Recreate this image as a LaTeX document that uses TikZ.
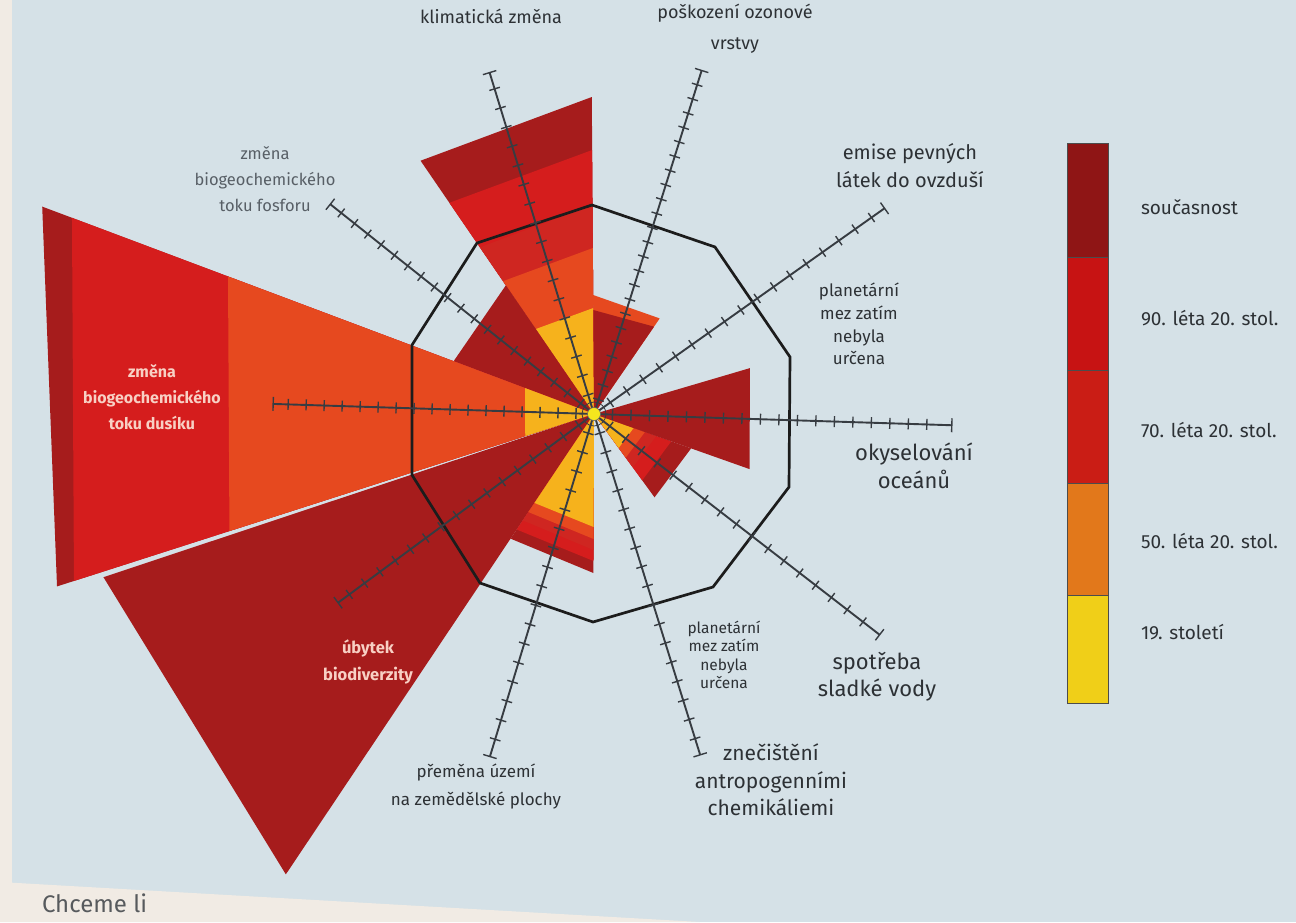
\documentclass[tikz,border=0pt]{standalone}
\usepackage{fontspec}
\setmainfont{Fira Sans}
\definecolor{cbg}{RGB}{213,225,231}
\definecolor{cpage}{RGB}{241,235,228}
\definecolor{ctext}{RGB}{45,49,53}
\definecolor{cgrey}{RGB}{88,95,102}
\definecolor{caxis}{RGB}{55,60,66}
\definecolor{cbound}{RGB}{28,28,28}
\definecolor{cinner}{RGB}{248,208,196}
\definecolor{c19}{RGB}{246,178,28}
\definecolor{c50}{RGB}{230,73,31}
\definecolor{c70}{RGB}{207,38,33}
\definecolor{c90}{RGB}{213,29,29}
\definecolor{cnow}{RGB}{166,28,28}
\definecolor{l19}{RGB}{240,207,24}
\definecolor{l50}{RGB}{226,120,27}
\definecolor{l70}{RGB}{202,29,21}
\definecolor{l90}{RGB}{199,19,19}
\definecolor{lnow}{RGB}{143,21,21}
\definecolor{cdot}{RGB}{245,230,30}

% one triangle of a wedge: from-angle, to-angle, radius on each edge, colour
\newcommand{\wedgetri}[5]{\fill[#5] (0,0) -- (#1:#3) -- (#2:#4) -- cycle;}

\tikzset{
  axisline/.style={draw=caxis, line width=1.9pt},
  tickmark/.style={draw=caxis, line width=1.4pt},
  boundary/.style={draw=cbound, line width=2.7pt, line join=miter},
  lbl/.style={text=ctext, align=center},
  innerlbl/.style={text=cinner, align=center, font=\fontsize{16}{26}\selectfont\bfseries},
  legbox/.style={draw=black!70, line width=0.8pt},
  leglbl/.style={text=ctext, font=\fontsize{19}{22}\selectfont},
}

\begin{document}
\begin{tikzpicture}[y=1pt, x=1pt, yscale=-1, inner sep=0pt, outer sep=0pt]
\useasboundingbox (0,0) rectangle (1296,922);
\path[fill=cbg] (0,0) rectangle (1296,922);
\path[fill=cpage] (0,0) rectangle (12,922);
\path[fill=cpage] (0,882) -- (700,922) -- (0,922) -- cycle;
\node[text=ctext!80, anchor=north west, font=\fontsize{24}{28}\selectfont] (text-chceme) at (42,894) {Chceme li};

% wedges, centre of the chart
\begin{scope}[shift={(594,414)}, yscale=-1]
  % klimaticka zmena
  \foreach \rl/\rh/\col in {317/307/cnow, 264/256/c90, 209/202/c70, 166/161/c50, 106/103/c19}
    \wedgetri{90.4}{124.4}{\rl}{\rh}{\col};
  % fosfor
  \wedgetri{124.4}{159.4}{156}{150}{cnow};
  % dusik
  \foreach \rl/\rh/\col in {589.5/564/cnow, 557.7/546.2/c90, 391/382.9/c50, 73.7/72.2/c19}
    \wedgetri{159.4}{197.8}{\rl}{\rh}{\col};
  % biodiverzita
  \wedgetri{-161.6}{-123.8}{517}{554}{cnow};
  % zemedelske plochy
  \foreach \rl/\rh/\col in {150/159/cnow, 139/147/c90, 128/136/c70, 118/125/c50, 107/113/c19}
    \wedgetri{-123.8}{-90.2}{\rl}{\rh}{\col};
  % sladka voda
  \foreach \r/\col in {103/cnow, 82/c90, 66/c70, 54/c50, 42/c19}
    \wedgetri{-54}{-19.5}{\r}{\r}{\col};
  % oceany
  \wedgetri{-19.5}{16.4}{165}{162.6}{cnow};
  % ozon
  \wedgetri{55.5}{90.4}{116}{119}{c50};
  \wedgetri{55.5}{90.4}{106}{104}{cnow};
\end{scope}

% planetary boundary
\path[boundary] (592,205) -- (715,247) -- (790,357) -- (789,487) -- (713,587)
  -- (593,622) -- (480,583) -- (412,475) -- (412,345) -- (477,243) -- cycle;

% axes with ticks
\begin{scope}[shift={(594,414)}, yscale=-1]
  \foreach \ang/\len/\stp in {107/357/20, 72.6/360/15, 35.3/356/20, -1.8/358/18.5,
      -37.7/361/20, -72.7/357/20, -106.9/358/20, -143.6/318/19, 178.2/321/18, 141.5/337/17}{
    \pgfmathtruncatemacro\nticks{(\len-8)/\stp}
    \begin{scope}[rotate=\ang]
      \path[axisline] (0,0) -- (\len,0);
      \foreach \k in {1,...,\nticks}
        \path[tickmark] ({\k*\stp},-5.5) -- ({\k*\stp},5.5);
      \path[tickmark] (\len,-7) -- (\len,7);
    \end{scope}
  }
  \path[draw=caxis, line width=0.8pt] (0,0) circle (12pt);
  \path[fill=cdot, draw=black!60, line width=0.6pt] (0,0) circle (6.5pt);
\end{scope}

% labels
\node[lbl, font=\fontsize{18}{21}\selectfont] (lbl-klima) at (491,16) {klimatická změna};
\node[lbl, font=\fontsize{18}{31}\selectfont] (lbl-ozon) at (735,29) {poškození ozonové\\vrstvy};
\node[lbl, font=\fontsize{20}{28}\selectfont] (lbl-emise) at (910,166) {emise pevných\\látek do ovzduší};
\node[lbl, font=\fontsize{17}{22.7}\selectfont] (lbl-mez1) at (859,324) {planetární\\mez zatím\\nebyla\\určena};
\node[lbl, font=\fontsize{22}{28}\selectfont] (lbl-ocean) at (914,466) {okyselování\\oceánů};
\node[lbl, font=\fontsize{22}{27}\selectfont] (lbl-voda) at (877,677) {spotřeba\\sladké vody};
\node[lbl, font=\fontsize{15.5}{18.3}\selectfont] (lbl-mez2) at (724,655) {planetární\\mez zatím\\nebyla\\určena};
\node[lbl, font=\fontsize{21}{27.5}\selectfont] (lbl-chem) at (771,780) {znečištění\\antropogenními\\chemikáliemi};
\node[lbl, font=\fontsize{17}{28}\selectfont] (lbl-puda) at (476,786) {přeměna území\\na zemědělské plochy};
\node[lbl, text=cgrey, font=\fontsize{16.5}{26}\selectfont] (lbl-fosfor) at (265,179) {změna\\biogeochemického\\toku fosforu};
\node[innerlbl] (lbl-dusik) at (152,397) {změna\\biogeochemického\\toku dusíku};
\node[innerlbl, font=\fontsize{16.5}{27}\selectfont\bfseries] (lbl-biodiv) at (368,662) {úbytek\\biodiverzity};

% legend
\foreach \ytop/\ybot/\col in {143/257/lnow, 257/370/l90, 370/483/l70, 483/595/l50, 595/703/l19}
  \path[legbox, fill=\col] (1067,\ytop) rectangle (1108,\ybot);
\foreach \ty/\txt [count=\i] in {207/současnost, 318/90. léta 20. stol., 430/70. léta 20. stol.,
    541/50. léta 20. stol., 632/19. století}
  \node[leglbl, anchor=west] (leg-\i) at (1141,\ty) {\txt};

\end{tikzpicture}
\end{document}
